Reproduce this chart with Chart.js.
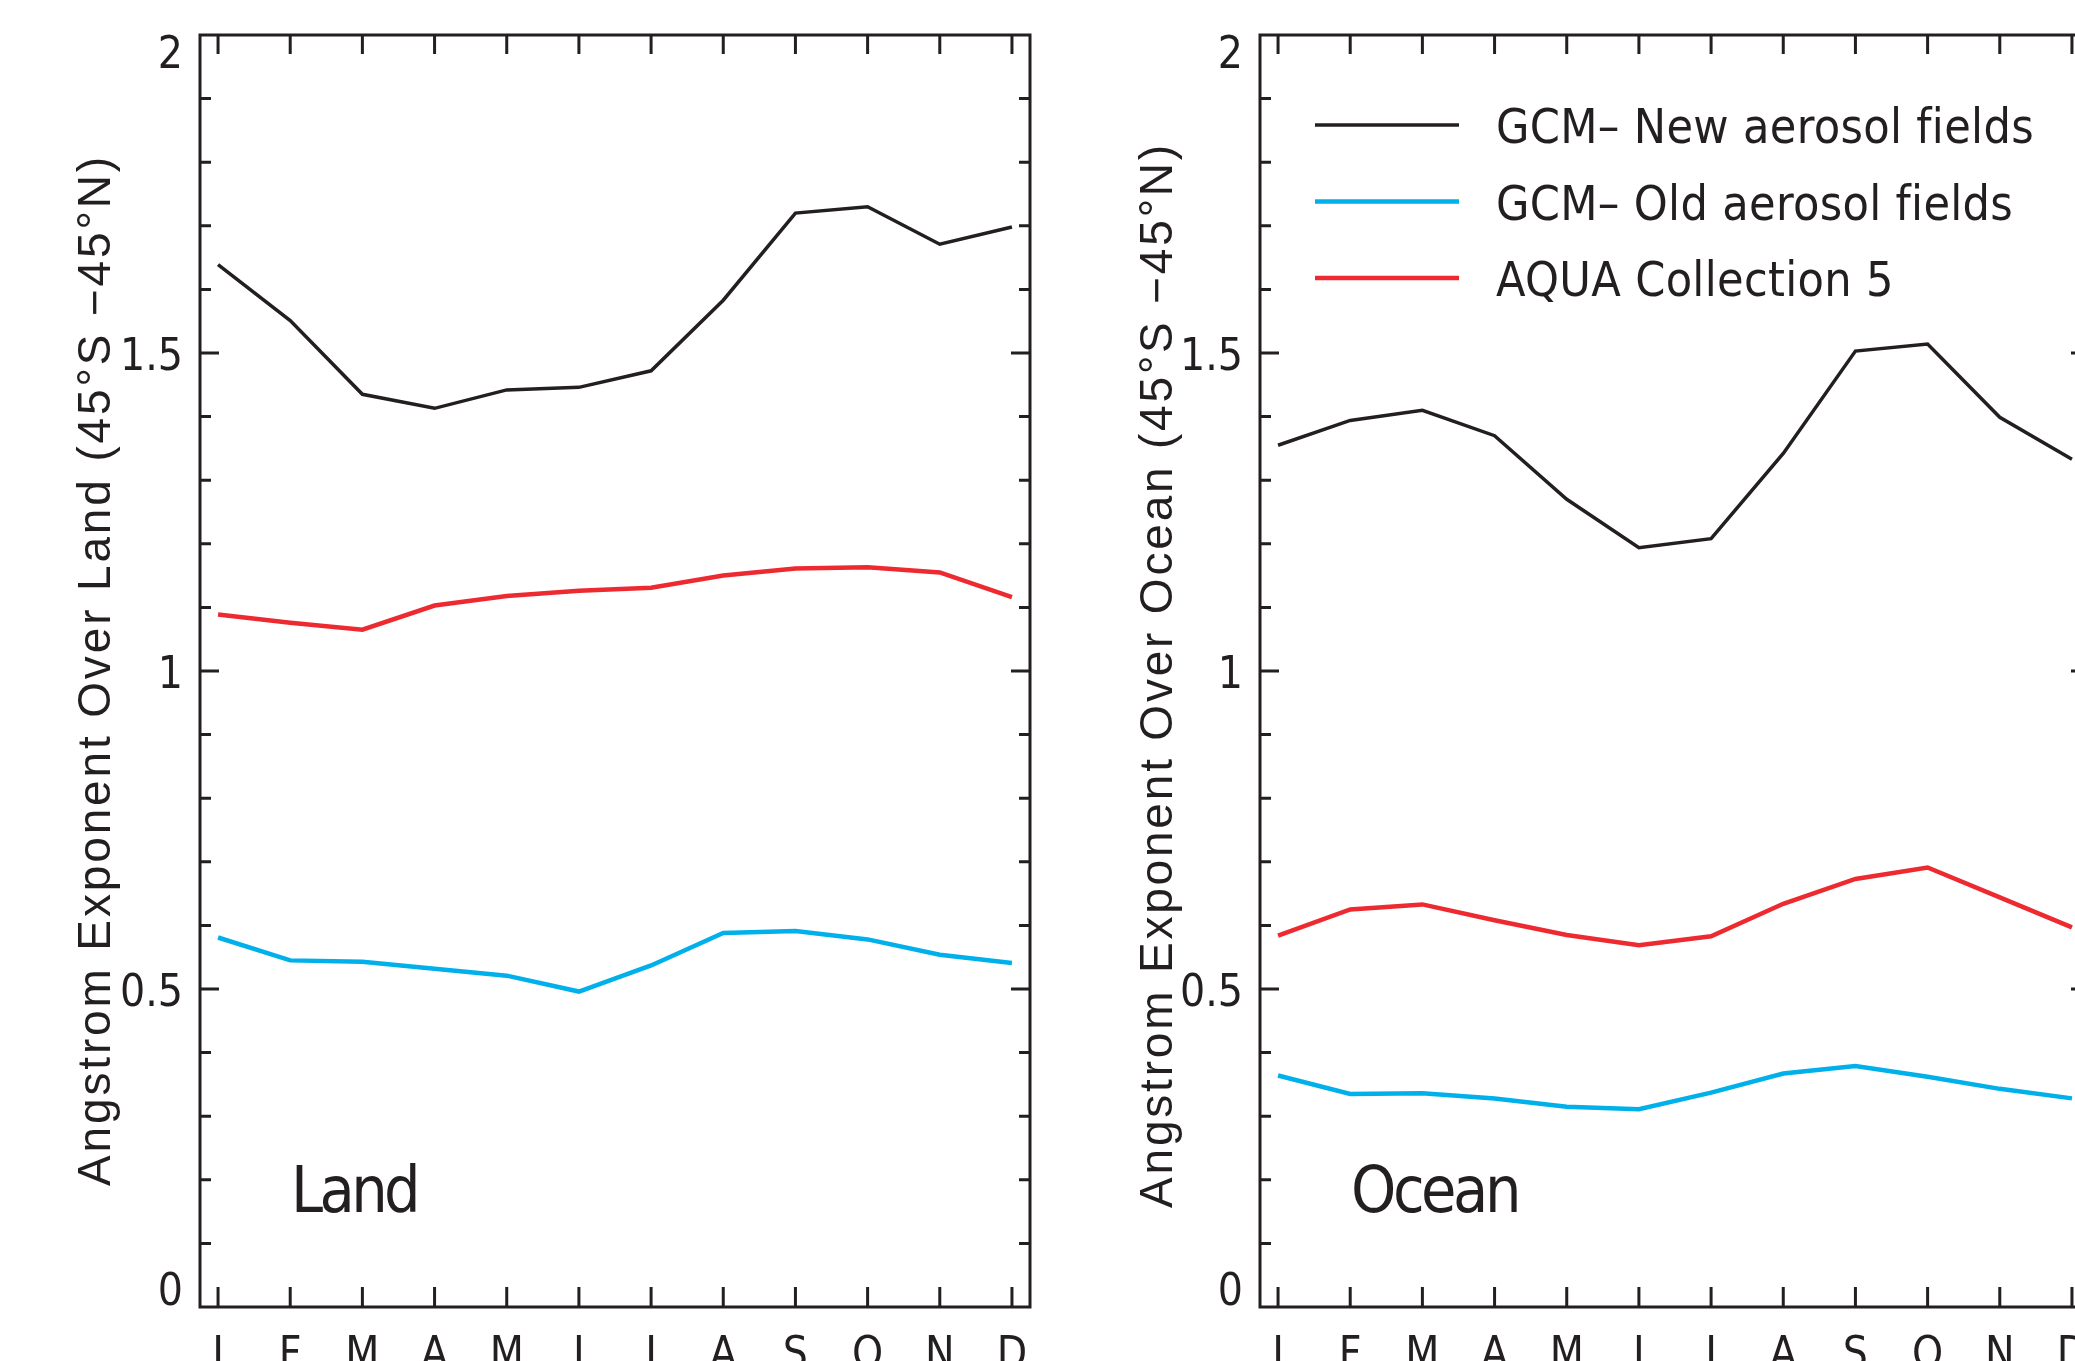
<!DOCTYPE html>
<html>
<head>
<meta charset="utf-8">
<title>Angstrom exponent over land and ocean</title>
<script src="https://cdn.jsdelivr.net/npm/chart.js@4.4.1/dist/chart.umd.min.js"></script>
<style>
  html, body { margin: 0; padding: 0; background: #fff; overflow: hidden; }
  #wrap { position: relative; width: 2075px; height: 1361px; overflow: hidden; background: #fff; }
  canvas { position: absolute; top: 0; }
  #landChart { left: 0; }
  #oceanChart { left: 1060px; }
</style>
</head>
<body>
<div id="wrap">
  <canvas id="landChart" width="1150" height="1361"></canvas>
  <canvas id="oceanChart" width="1150" height="1361"></canvas>
</div>
<script>
const months = ['J', 'F', 'M', 'A', 'M', 'J', 'J', 'A', 'S', 'O', 'N', 'D'];
const yTicks = [0, 0.5, 1, 1.5, 2];
const seriesNames = ['GCM\u2013 New aerosol fields', 'GCM\u2013 Old aerosol fields', 'AQUA Collection 5'];
const seriesColors = ['#231f20', '#00b0ea', '#ed2a30'];
const seriesWidths = [3.5, 4.5, 4.5];

// land, 45S-45N
const landNew = [1.639, 1.551, 1.435, 1.413, 1.442, 1.446, 1.472, 1.583, 1.720, 1.730, 1.671, 1.698];
const landOld = [0.581, 0.545, 0.543, 0.532, 0.521, 0.496, 0.537, 0.588, 0.591, 0.578, 0.554, 0.541];
const landAqua = [1.089, 1.076, 1.065, 1.103, 1.118, 1.126, 1.131, 1.150, 1.161, 1.163, 1.155, 1.116];

// ocean, 45S-45N
const oceanNew = [1.355, 1.394, 1.410, 1.370, 1.270, 1.194, 1.208, 1.342, 1.503, 1.514, 1.399, 1.333];
const oceanOld = [0.364, 0.335, 0.336, 0.328, 0.315, 0.311, 0.337, 0.367, 0.379, 0.362, 0.343, 0.328];
const oceanAqua = [0.584, 0.625, 0.633, 0.608, 0.585, 0.569, 0.583, 0.634, 0.673, 0.691, 0.644, 0.597];

const ink = '#231f20';
const narrow = "'Liberation Sans Narrow', 'DejaVu Sans Condensed', sans-serif";
const regular = "'Liberation Sans', Arimo, sans-serif";

// letter spacing that makes text span the wanted width
function spacingFor(ctx, text, target) {
    ctx.letterSpacing = '0px';
    const w = ctx.measureText(text).width;
    return (target - w) / text.length;
}

const framePlugin = {
    id: 'frame',
    afterDatasetsDraw(chart, args, opts) {
        const { ctx, chartArea: a, scales: { x, y } } = chart;
        ctx.save();
        ctx.strokeStyle = ink;
        ctx.lineWidth = 3;
        ctx.strokeRect(a.left, a.top, a.right - a.left, a.bottom - a.top);

        // inward ticks
        ctx.lineWidth = 3;
        ctx.beginPath();
        x.ticks.forEach(t => {
            const px = x.getPixelForValue(t.value);
            ctx.moveTo(px, a.top);
            ctx.lineTo(px, a.top + 19);
            ctx.moveTo(px, a.bottom);
            ctx.lineTo(px, a.bottom - 20);
        });
        for (let i = 1; i < 20; i++) {
            const py = y.getPixelForValue(i / 10);
            const len = i % 5 === 0 ? 19 : 11;
            ctx.moveTo(a.left, py);
            ctx.lineTo(a.left + len, py);
            ctx.moveTo(a.right, py);
            ctx.lineTo(a.right - len, py);
        }
        ctx.stroke();

        // y tick labels, end labels kept inside the frame
        ctx.fillStyle = ink;
        ctx.font = `44px ${narrow}`;
        ctx.textAlign = 'right';
        ctx.textBaseline = 'alphabetic';
        y.ticks.forEach(t => {
            let base = y.getPixelForValue(t.value) + 17;
            if (t.value === y.max) base = a.top + 33;
            if (t.value === y.min) base = a.bottom - 2;
            ctx.fillText(String(t.value), a.left - 17, base);
        });

        // axis title
        ctx.save();
        ctx.font = `46px ${regular}`;
        ctx.textAlign = 'center';
        const sp = spacingFor(ctx, opts.title, opts.titleLength);
        ctx.letterSpacing = sp + 'px';
        ctx.translate(opts.titleX, opts.titleY);
        ctx.rotate(-Math.PI / 2);
        ctx.fillText(opts.title, 0, 0);
        ctx.restore();

        // panel tag
        ctx.font = `64px ${narrow}`;
        ctx.textAlign = 'left';
        ctx.letterSpacing = spacingFor(ctx, opts.tag, opts.tagWidth) + 'px';
        ctx.fillText(opts.tag, a.left + 91, 1212);
        ctx.letterSpacing = '0px';

        if (opts.legend) {
            ctx.font = `48px ${narrow}`;
            const ls = spacingFor(ctx, chart.data.datasets[0].label, 538);
            chart.data.datasets.forEach((ds, i) => {
                const ly = 125 + i * 76.5;
                ctx.strokeStyle = ds.borderColor;
                ctx.lineWidth = ds.borderWidth;
                ctx.beginPath();
                ctx.moveTo(a.left + 55, ly);
                ctx.lineTo(a.left + 199, ly);
                ctx.stroke();
                ctx.letterSpacing = ls + 'px';
                ctx.fillText(ds.label, a.left + 236, ly + 18);
            });
            ctx.letterSpacing = '0px';
        }
        ctx.restore();
    }
};

function makeChart(id, seriesList, frame) {
    return new Chart(document.getElementById(id), {
        type: 'line',
        data: {
            datasets: seriesList.map((vals, i) => ({
                label: seriesNames[i],
                data: vals.map((v, k) => ({ x: k, y: v })),
                borderColor: seriesColors[i],
                borderWidth: seriesWidths[i],
                pointRadius: 0,
                tension: 0,
                fill: false
            }))
        },
        options: {
            responsive: false,
            animation: false,
            events: [],
            layout: { padding: { left: 0, top: 35, right: 120, bottom: 0 } },
            plugins: {
                legend: { display: false },
                tooltip: { enabled: false },
                frame
            },
            scales: {
                x: {
                    type: 'linear',
                    min: -0.25,
                    max: 11.25,
                    grid: { display: false, drawTicks: false },
                    border: { display: false },
                    afterBuildTicks: scale => {
                        scale.ticks = months.map((m, i) => ({ value: i }));
                    },
                    ticks: {
                        autoSkip: false,
                        maxRotation: 0,
                        padding: 23,
                        color: ink,
                        font: { family: narrow, size: 44 },
                        callback: value => months[value]
                    },
                    afterFit: scale => { scale.height = 54; }
                },
                y: {
                    min: 0,
                    max: 2,
                    grid: { display: false, drawTicks: false },
                    border: { display: false },
                    afterBuildTicks: scale => {
                        scale.ticks = yTicks.map(v => ({ value: v }));
                    },
                    ticks: { display: false },
                    afterFit: scale => { scale.width = 200; }
                }
            }
        },
        plugins: [framePlugin]
    });
}

makeChart('landChart', [landNew, landOld, landAqua], {
    title: 'Angstrom Exponent Over Land (45\u00b0S \u221245\u00b0N)',
    titleLength: 1032, titleX: 110, titleY: 670,
    tag: 'Land', tagWidth: 126,
    legend: false
});

makeChart('oceanChart', [oceanNew, oceanOld, oceanAqua], {
    title: 'Angstrom Exponent Over Ocean (45\u00b0S \u221245\u00b0N)',
    titleLength: 1066, titleX: 112, titleY: 675,
    tag: 'Ocean', tagWidth: 167,
    legend: true
});
</script>
</body>
</html>
